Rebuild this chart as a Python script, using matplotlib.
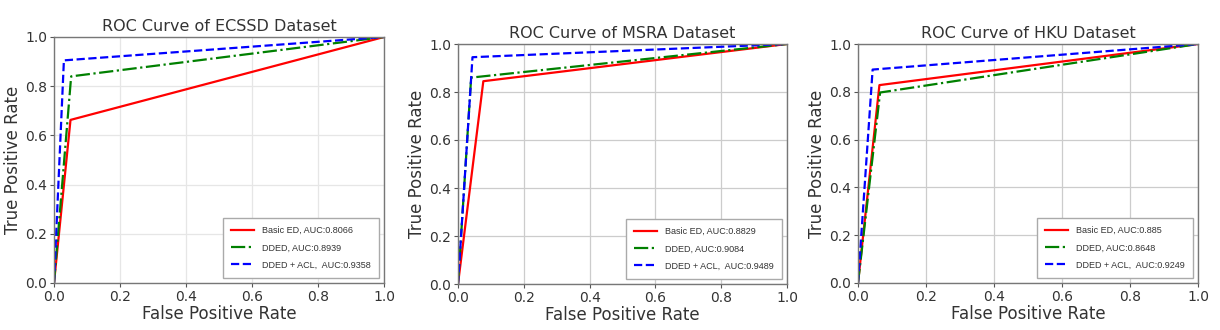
import numpy as np
import matplotlib
matplotlib.use('Agg')
import matplotlib.pyplot as plt

# ROC points: (0,0) -> corner -> (1,1)
titles = ['ROC Curve of ECSSD Dataset', 'ROC Curve of MSRA Dataset', 'ROC Curve of HKU Dataset']

basic_fpr = [[0, 0.05, 1], [0, 0.077, 1], [0, 0.063, 1]]
basic_tpr = [[0, 0.663, 1], [0, 0.845, 1], [0, 0.828, 1]]
dded_fpr = [[0, 0.052, 1], [0, 0.04, 1], [0, 0.065, 1]]
dded_tpr = [[0, 0.84, 1], [0, 0.86, 1], [0, 0.797, 1]]
acl_fpr = [[0, 0.03, 1], [0, 0.044, 1], [0, 0.043, 1]]
acl_tpr = [[0, 0.905, 1], [0, 0.945, 1], [0, 0.893, 1]]

basic_auc = ['0.8066', '0.8829', '0.885']
dded_auc = ['0.8939', '0.9084', '0.8648']
acl_auc = ['0.9358', '0.9489', '0.9249']

W, H = 1220, 330
fig = plt.figure(figsize=(W / 100, H / 100), dpi=100)

# axes boxes in pixels: left, top, right, bottom
boxes = [(54, 37, 384, 283), (458, 44, 787, 284), (858, 44, 1198, 283)]
grid_col = ['#e6e6e6', '#cccccc', '#cccccc']
txt = '#333333'

for i in range(3):
    l, t, r, b = boxes[i]
    ax = fig.add_axes([l / W, 1 - b / H, (r - l) / W, (b - t) / H])
    ax.plot(basic_fpr[i], basic_tpr[i], color='red', lw=1.6, label='Basic ED, AUC:' + basic_auc[i])
    ax.plot(dded_fpr[i], dded_tpr[i], color='green', lw=1.6, ls='-.', label='DDED, AUC:' + dded_auc[i])
    ax.plot(acl_fpr[i], acl_tpr[i], color='blue', lw=1.6, ls='--', label='DDED + ACL,  AUC:' + acl_auc[i])
    ax.set_xlim(0, 1)
    ax.set_ylim(0, 1)
    ax.set_xticks(np.arange(0, 1.01, 0.2))
    ax.set_yticks(np.arange(0, 1.01, 0.2))
    ax.grid(True, color=grid_col[i], lw=0.9)
    ax.set_axisbelow(True)
    for s in ax.spines.values():
        s.set_color('#777777')
        s.set_linewidth(1.0)
    ax.tick_params(colors='#555555', labelcolor=txt, labelsize=10, length=3, pad=2)
    ax.set_title(titles[i], fontsize=11.5, color=txt, pad=4)
    ax.set_xlabel('False Positive Rate', fontsize=12, color=txt, labelpad=1)
    ax.set_ylabel('True Positive Rate', fontsize=12, color=txt, labelpad=2)
    leg = ax.legend(loc='lower right', prop={'family': 'Liberation Sans', 'size': 6.5},
                    fancybox=False, framealpha=1, edgecolor='#aaaaaa',
                    borderpad=0.9, labelspacing=0.9, handlelength=2.6,
                    borderaxespad=0.6)
    for tx in leg.get_texts():
        tx.set_color('#333333')

fig.savefig('out.png', dpi=100)
